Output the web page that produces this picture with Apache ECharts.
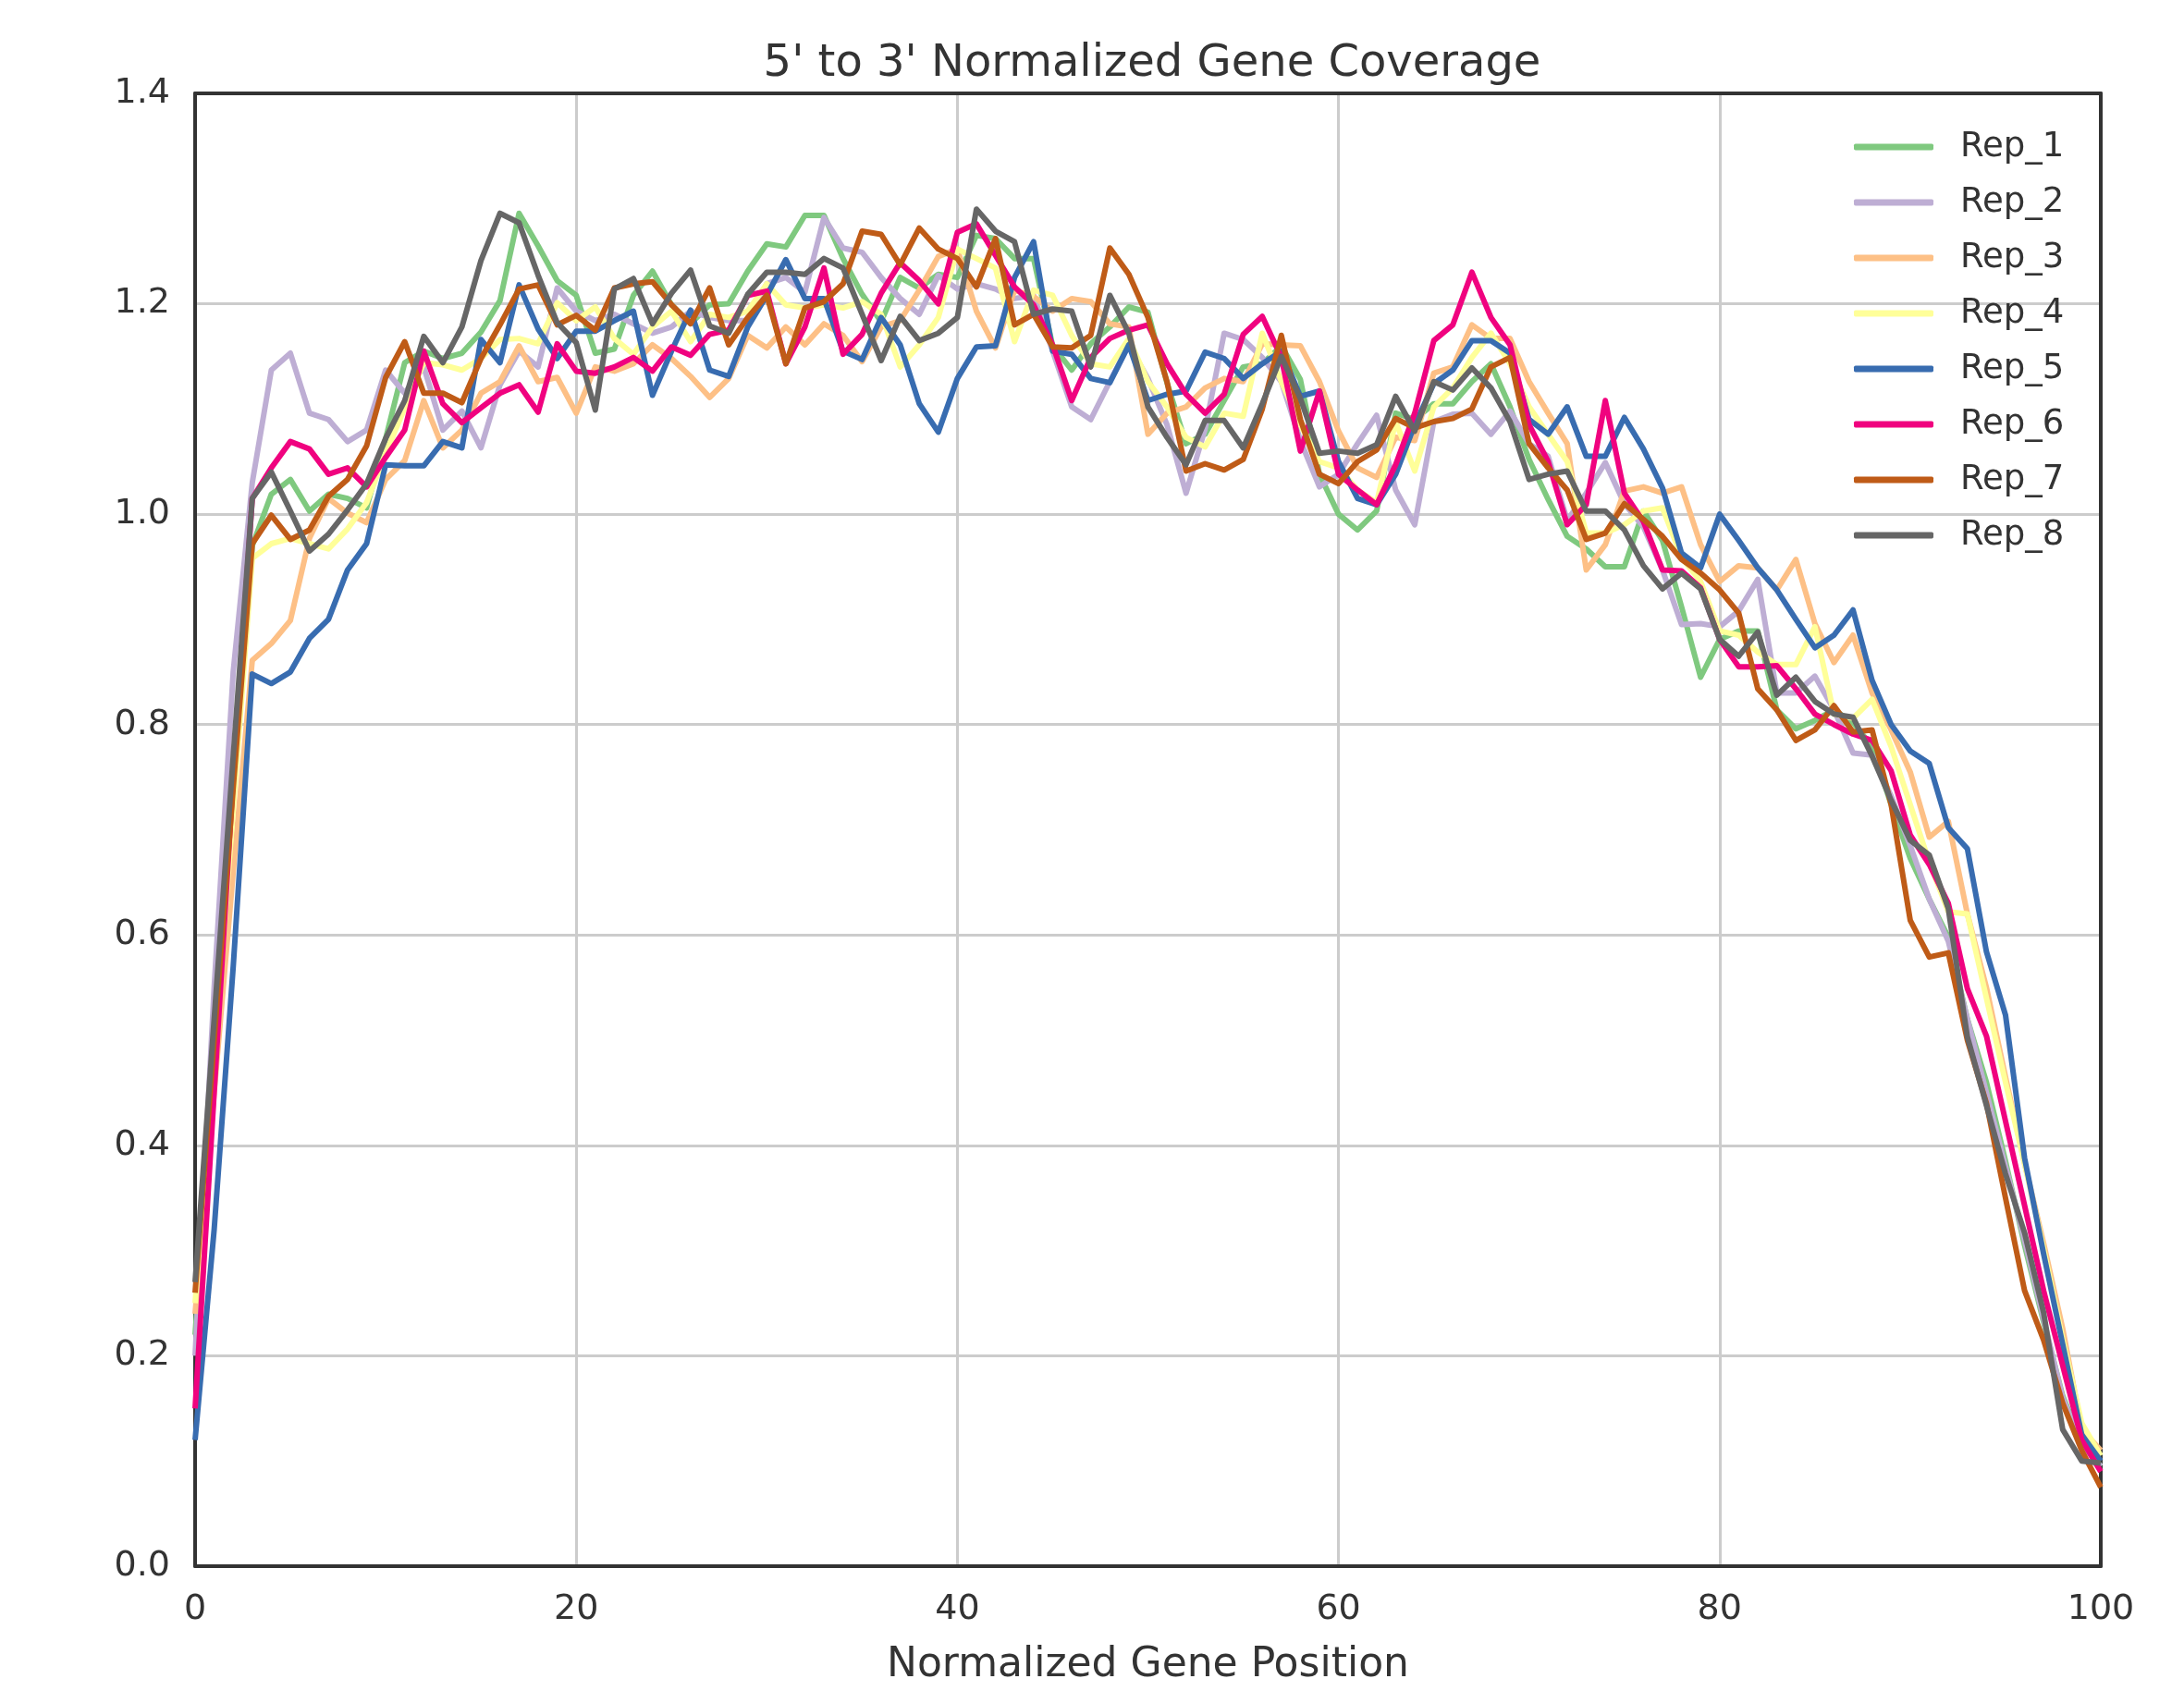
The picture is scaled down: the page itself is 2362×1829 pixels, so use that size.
<!DOCTYPE html>
<html>
<head>
<meta charset="utf-8">
<script src="https://cdn.jsdelivr.net/npm/echarts@6/dist/echarts.min.js"></script>
<style>
html,body{margin:0;padding:0;background:#fff;}
#chart{width:2362px;height:1829px;}
</style>
</head>
<body>
<div id="chart"></div>
<script>
const seriesNames = ["Rep_1","Rep_2","Rep_3","Rep_4","Rep_5","Rep_6","Rep_7","Rep_8"];
const seriesColors = ["#7fc97f","#beaed4","#fdc086","#ffff99","#386cb0","#f0027f","#bf5b17","#666666"];
const xTicks = [0,20,40,60,80,100];
const yTicks = [0.0,0.2,0.4,0.6,0.8,1.0,1.2,1.4];

const rep1 = [0.22,0.48,0.73,0.97,1.019,1.033,1.003,1.019,1.015,1.006,1.072,1.144,1.155,1.148,1.153,1.173,1.203,1.286,1.255,1.222,1.208,1.153,1.157,1.208,1.231,1.199,1.181,1.199,1.2,1.231,1.257,1.254,1.284,1.284,1.243,1.209,1.183,1.225,1.215,1.228,1.225,1.265,1.262,1.243,1.243,1.16,1.137,1.162,1.178,1.197,1.192,1.125,1.067,1.076,1.108,1.14,1.143,1.16,1.128,1.038,1.0,0.985,1.003,1.096,1.09,1.105,1.105,1.126,1.143,1.102,1.052,1.014,0.979,0.967,0.95,0.95,1.003,0.975,0.912,0.845,0.881,0.889,0.889,0.814,0.796,0.804,0.814,0.802,0.779,0.724,0.673,0.634,0.598,0.52,0.46,0.385,0.305,0.232,0.162,0.117,0.095];
const rep2 = [0.2,0.55,0.85,1.03,1.137,1.153,1.096,1.09,1.069,1.08,1.137,1.115,1.14,1.08,1.098,1.063,1.123,1.155,1.14,1.215,1.193,1.184,1.19,1.181,1.172,1.178,1.193,1.187,1.184,1.184,1.219,1.225,1.211,1.282,1.253,1.249,1.225,1.205,1.19,1.227,1.214,1.219,1.214,1.205,1.208,1.155,1.102,1.09,1.126,1.161,1.129,1.085,1.02,1.081,1.172,1.166,1.149,1.126,1.07,1.026,1.038,1.067,1.094,1.023,0.99,1.088,1.095,1.096,1.076,1.098,1.067,1.055,0.994,1.02,1.049,1.01,0.988,0.947,0.895,0.896,0.893,0.908,0.938,0.83,0.83,0.846,0.814,0.773,0.771,0.732,0.685,0.634,0.594,0.52,0.45,0.38,0.31,0.235,0.16,0.115,0.095];
const rep3 = [0.24,0.45,0.66,0.861,0.877,0.899,0.977,1.015,1.001,0.992,1.033,1.051,1.108,1.063,1.08,1.115,1.126,1.16,1.126,1.13,1.096,1.14,1.136,1.143,1.161,1.148,1.131,1.111,1.129,1.17,1.158,1.178,1.161,1.181,1.17,1.145,1.178,1.184,1.213,1.245,1.252,1.193,1.158,1.213,1.207,1.193,1.205,1.202,1.181,1.178,1.076,1.096,1.102,1.12,1.129,1.126,1.162,1.161,1.16,1.126,1.079,1.044,1.035,1.073,1.07,1.134,1.14,1.18,1.167,1.167,1.126,1.096,1.067,0.947,0.971,1.022,1.026,1.02,1.026,0.971,0.936,0.951,0.949,0.928,0.957,0.896,0.859,0.885,0.83,0.795,0.755,0.693,0.708,0.62,0.55,0.465,0.383,0.307,0.226,0.13,0.11];
const rep4 = [0.25,0.48,0.72,0.958,0.972,0.977,0.972,0.967,0.986,1.011,1.058,1.101,1.144,1.142,1.137,1.148,1.166,1.167,1.162,1.201,1.184,1.197,1.167,1.152,1.178,1.193,1.164,1.19,1.187,1.193,1.219,1.199,1.196,1.199,1.196,1.202,1.19,1.14,1.161,1.187,1.252,1.243,1.234,1.164,1.213,1.208,1.17,1.143,1.14,1.167,1.126,1.102,1.073,1.064,1.096,1.093,1.172,1.126,1.085,1.05,1.044,1.023,1.011,1.088,1.041,1.102,1.12,1.149,1.172,1.143,1.102,1.076,1.05,0.982,0.982,0.99,1.003,1.006,0.959,0.936,0.889,0.885,0.869,0.857,0.857,0.893,0.81,0.806,0.824,0.779,0.724,0.669,0.622,0.62,0.54,0.46,0.383,0.302,0.216,0.136,0.105];
const rep5 = [0.12,0.32,0.57,0.848,0.839,0.85,0.882,0.9,0.947,0.972,1.047,1.046,1.046,1.069,1.063,1.166,1.144,1.218,1.176,1.148,1.174,1.174,1.184,1.193,1.113,1.155,1.194,1.137,1.131,1.178,1.208,1.242,1.205,1.205,1.155,1.147,1.187,1.161,1.105,1.078,1.129,1.159,1.16,1.225,1.259,1.155,1.152,1.129,1.125,1.161,1.108,1.114,1.117,1.154,1.148,1.129,1.143,1.155,1.112,1.117,1.05,1.015,1.009,1.038,1.085,1.124,1.137,1.165,1.165,1.153,1.09,1.076,1.102,1.055,1.055,1.092,1.062,1.025,0.963,0.949,1.0,0.975,0.949,0.928,0.9,0.873,0.885,0.909,0.842,0.8,0.775,0.763,0.702,0.682,0.584,0.524,0.388,0.297,0.211,0.125,0.1];
const rep6 = [0.15,0.45,0.75,1.015,1.044,1.069,1.062,1.038,1.044,1.026,1.054,1.08,1.155,1.105,1.087,1.101,1.115,1.123,1.097,1.162,1.136,1.134,1.14,1.149,1.136,1.159,1.151,1.171,1.175,1.208,1.212,1.143,1.178,1.234,1.152,1.171,1.21,1.239,1.222,1.2,1.268,1.276,1.246,1.216,1.199,1.161,1.108,1.149,1.167,1.175,1.18,1.143,1.114,1.096,1.114,1.171,1.188,1.149,1.06,1.117,1.038,1.023,1.009,1.047,1.096,1.165,1.18,1.23,1.187,1.161,1.085,1.05,0.99,1.009,1.108,1.02,0.993,0.947,0.946,0.93,0.881,0.855,0.855,0.856,0.834,0.81,0.8,0.791,0.785,0.756,0.695,0.667,0.63,0.549,0.504,0.423,0.343,0.262,0.191,0.12,0.09];
const rep7 = [0.26,0.5,0.74,0.972,0.999,0.976,0.985,1.017,1.033,1.065,1.13,1.164,1.115,1.115,1.106,1.148,1.18,1.214,1.218,1.18,1.189,1.175,1.215,1.219,1.221,1.199,1.181,1.215,1.161,1.187,1.208,1.143,1.196,1.202,1.219,1.269,1.266,1.237,1.272,1.252,1.243,1.216,1.262,1.18,1.19,1.159,1.158,1.17,1.253,1.228,1.187,1.126,1.041,1.048,1.042,1.052,1.1,1.17,1.09,1.038,1.029,1.05,1.061,1.091,1.082,1.088,1.091,1.1,1.14,1.149,1.067,1.044,1.023,0.976,0.982,1.01,0.995,0.979,0.957,0.944,0.928,0.906,0.834,0.814,0.785,0.795,0.818,0.793,0.795,0.724,0.614,0.579,0.583,0.5,0.44,0.35,0.262,0.215,0.155,0.11,0.075];
const rep8 = [0.27,0.52,0.77,1.015,1.04,1.003,0.965,0.981,1.004,1.029,1.072,1.108,1.169,1.144,1.178,1.241,1.286,1.277,1.227,1.182,1.163,1.099,1.214,1.224,1.181,1.21,1.232,1.179,1.172,1.209,1.23,1.23,1.228,1.243,1.234,1.19,1.146,1.188,1.165,1.172,1.187,1.29,1.269,1.259,1.19,1.195,1.193,1.14,1.208,1.172,1.102,1.073,1.047,1.089,1.089,1.063,1.105,1.15,1.11,1.058,1.06,1.058,1.066,1.112,1.079,1.126,1.118,1.139,1.12,1.088,1.033,1.038,1.041,1.003,1.003,0.985,0.951,0.929,0.944,0.929,0.881,0.865,0.888,0.828,0.845,0.822,0.81,0.807,0.77,0.728,0.69,0.676,0.625,0.503,0.438,0.373,0.317,0.241,0.13,0.1,0.098];

const seriesValues = [rep1,rep2,rep3,rep4,rep5,rep6,rep7,rep8];

const FONT = "DejaVu Sans";
const TXT = "#333333";
const FRAME = "#333333";

const chart = echarts.init(document.getElementById('chart'), null, {renderer:'canvas'});

const series = seriesNames.map((name, k) => ({
  name: name,
  type: 'line',
  data: seriesValues[k].map((v, i) => [i, v]),
  showSymbol: false,
  symbol: 'none',
  lineStyle: {color: seriesColors[k], width: 6, join: 'round'},
  itemStyle: {color: seriesColors[k]},
  animation: false,
  z: 2 + k
}));

const frameAxisCommon = {
  axisTick: {show: false},
  axisLabel: {show: false},
  splitLine: {show: false},
  axisLine: {show: true, onZero: false, lineStyle: {color: FRAME, width: 4}}
};

chart.setOption({
  backgroundColor: '#ffffff',
  animation: false,
  title: {
    text: "5' to 3' Normalized Gene Coverage",
    left: 1241,
    top: 41,
    textAlign: 'center',
    textStyle: {fontFamily: FONT, fontSize: 48, fontWeight: 'normal', color: TXT}
  },
  grid: {
    left: 211, right: 90, top: 101, bottom: 134,
    show: false,
    containLabel: false
  },
  legend: {
    data: seriesNames,
    orient: 'vertical',
    left: 2000,
    top: 132,
    icon: 'roundRect',
    itemWidth: 86,
    itemHeight: 7,
    itemGap: 16,
    textStyle: {fontFamily: FONT, fontSize: 37, color: TXT, lineHeight: 44, padding: [0,0,0,24]}
  },
  xAxis: [{
    type: 'value',
    min: xTicks[0], max: xTicks[xTicks.length-1], interval: xTicks[1]-xTicks[0],
    name: 'Normalized Gene Position',
    nameLocation: 'middle',
    nameGap: 86,
    nameTextStyle: {fontFamily: FONT, fontSize: 44, color: TXT},
    axisLine: {show: true, onZero: false, lineStyle: {color: FRAME, width: 4}},
    axisTick: {show: false},
    axisLabel: {fontFamily: FONT, fontSize: 38, color: TXT, margin: 28},
    splitLine: {show: true, showMinLine: false, showMaxLine: false, lineStyle: {color: '#cccccc', width: 3}},
    z: 1
  }, Object.assign({
    type: 'value', position: 'top',
    min: xTicks[0], max: xTicks[xTicks.length-1], interval: xTicks[1]-xTicks[0], z: 1
  }, frameAxisCommon)],
  yAxis: [{
    type: 'value',
    min: yTicks[0], max: yTicks[yTicks.length-1], interval: 0.2,
    axisLine: {show: true, onZero: false, lineStyle: {color: FRAME, width: 4}},
    axisTick: {show: false},
    axisLabel: {fontFamily: FONT, fontSize: 38, color: TXT, margin: 27, formatter: v => v.toFixed(1)},
    splitLine: {show: true, showMinLine: false, showMaxLine: false, lineStyle: {color: '#cccccc', width: 3}},
    z: 1
  }, Object.assign({
    type: 'value', position: 'right',
    min: yTicks[0], max: yTicks[yTicks.length-1], interval: 0.2, z: 1
  }, frameAxisCommon)],
  series: series
});
</script>
</body>
</html>
